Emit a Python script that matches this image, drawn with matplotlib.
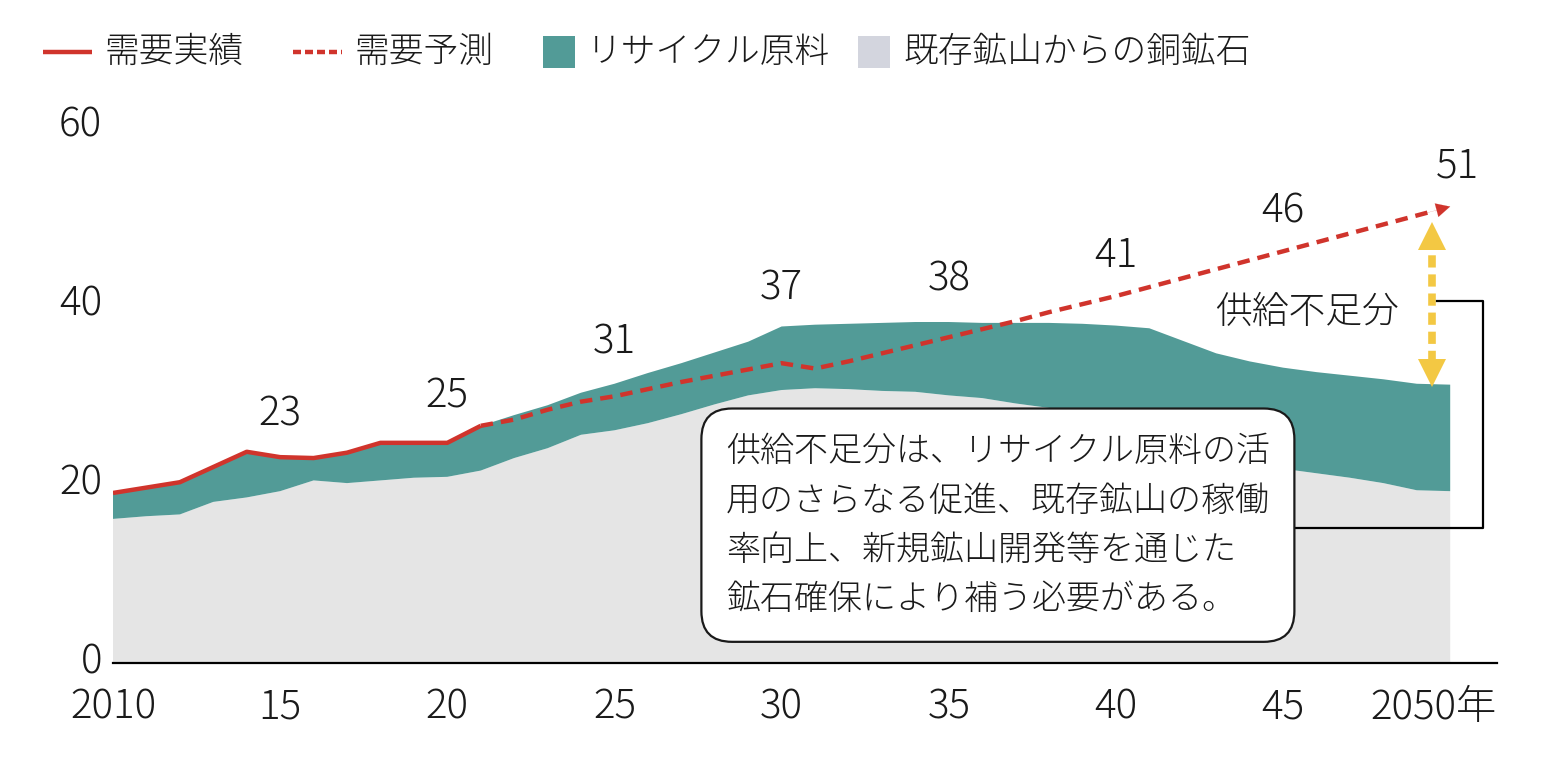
import matplotlib
matplotlib.use("Agg")
import matplotlib.pyplot as plt
from matplotlib.lines import Line2D
from matplotlib.patches import Rectangle
import matplotlib.transforms as mtransforms

plt.rcParams['font.family'] = ['Noto Sans CJK JP', 'DejaVu Sans']
plt.rcParams['font.weight'] = 'light'

# ---- data ----
years = list(range(2010, 2051))
ore_mine = [16.1, 16.4, 16.6, 18.0, 18.5, 19.2, 20.4, 20.1, 20.4, 20.7, 20.8,
            21.5, 22.9, 24.0, 25.5, 26.0, 26.8, 27.8, 28.9, 29.9, 30.5,
            30.7, 30.6, 30.4, 30.3, 29.9, 29.6, 29.0, 28.5, 28.2, 27.8,
            27.0, 25.5, 24.0, 22.8, 21.7, 21.2, 20.7, 20.1, 19.3, 19.2]
recycle = [2.9, 3.2, 3.6, 3.9, 5.1, 3.8, 2.5, 3.4, 4.2, 3.9, 3.8,
           5.0, 4.8, 4.8, 4.7, 5.2, 5.6, 5.7, 5.8, 6.0, 7.1,
           7.1, 7.3, 7.6, 7.8, 8.2, 8.4, 9.0, 9.5, 9.7, 9.9,
           10.4, 10.5, 10.6, 10.9, 11.3, 11.3, 11.4, 11.6, 11.9, 11.9]
actual_years = list(range(2010, 2022))
demand_actual = [19.0, 19.6, 20.2, 21.9, 23.6, 23.0, 22.9, 23.5, 24.6, 24.6, 24.6, 26.5]
forecast_years = list(range(2021, 2051))
demand_forecast = [26.5, 27.2, 28.3, 29.2, 29.8, 30.6, 31.4, 32.1, 32.8, 33.5,
                   32.9, 33.7, 34.6, 35.5, 36.4, 37.3, 38.2, 39.2, 40.1, 41.0,
                   42.0, 43.0, 44.0, 45.0, 46.0, 47.0, 48.0, 49.0, 50.0, 51.0]
label_years = [2015, 2020, 2025, 2030, 2035, 2040, 2045, 2050]
label_values = [23, 25, 31, 37, 38, 41, 46, 51]
xtick_values = [2010, 2015, 2020, 2025, 2030, 2035, 2040, 2045, 2050]
xtick_labels = ['2010', '15', '20', '25', '30', '35', '40', '45', '2050年']
ytick_values = [0, 20, 40, 60]

legend_labels = ['需要実績', '需要予測', 'リサイクル原料', '既存鉱山からの銅鉱石']
note_text = ('供給不足分は、リサイクル原料の活\n用のさらなる促進、既存鉱山の稼働\n'
             '率向上、新規鉱山開発等を通じた\n鉱石確保により補う必要がある。')
gap_label = '供給不足分'

# ---- colours ----
RED = '#d0342c'
TEAL = '#529b97'
GRAY = '#e5e5e5'
GRAY_LEG = '#d3d5de'
YELLOW = '#f3c843'
TXT = '#1a1a1a'

W, H = 1552, 768
fig = plt.figure(figsize=(W / 100, H / 100), dpi=100)
ax = fig.add_axes([113 / W, 105 / H, 1384 / W, 537 / H])
ax.set_xlim(2010, 2051.4)
ax.set_ylim(0, 60)

ax.stackplot(years, ore_mine, recycle, colors=[GRAY, TEAL], linewidth=0, zorder=1)

ax.plot(actual_years, demand_actual, color=RED, lw=3.2, solid_capstyle='butt', zorder=3)
f_last = demand_forecast[-1]
f_step = demand_forecast[-1] - demand_forecast[-2]
ax.plot(forecast_years[:-1] + [forecast_years[-1] - 0.45],
        demand_forecast[:-1] + [f_last - 0.45 * f_step],
        color=RED, lw=3.2, ls=(0, (2.8, 1.8)), zorder=3)
ax.annotate('', xy=(forecast_years[-1], f_last),
            xytext=(forecast_years[-1] - 0.7, f_last - 0.7 * f_step),
            arrowprops=dict(arrowstyle='-|>,head_length=1.0,head_width=0.5', color=RED, lw=0.1,
                            shrinkA=0, shrinkB=0), zorder=4)

# supply gap double arrow
gx = years[-1] - 0.55
top_y = f_last - 0.55 * f_step
bot_y = ore_mine[-1] + recycle[-1]
ax.plot([gx, gx], [bot_y + 2.4, top_y - 3.6], color=YELLOW, lw=5.5, ls=(0, (1.6, 0.9)), zorder=4,
        dash_capstyle='butt')
ax.plot([gx], [top_y - 2.7], marker='^', ms=20, color=YELLOW, mew=0, zorder=4)
ax.plot([gx], [bot_y + 1.35], marker='v', ms=20, color=YELLOW, mew=0, zorder=4)

# data labels
for yr, v in zip(label_years, label_values):
    dx = 5 if yr == 2050 else 0
    dy = 29 if v > 40 else 31
    ax.annotate(f'{v}', xy=(yr, v), xytext=(dx, dy), textcoords='offset points',
                ha='center', va='center', fontsize=29, color=TXT, zorder=5)

# bracket
ax.plot([2049.6, 2050.98, 2050.98, 2045.0], [40.45, 40.45, 15.1, 15.1],
        color='black', lw=1.6, clip_on=False, zorder=5)
ax.text(2045.72, 39.2, gap_label, ha='center', va='center', fontsize=26.5, color=TXT, zorder=6)

# note box
ax.text(2036.47, 15.4, note_text, ha='center', va='center', multialignment='left',
        fontsize=24.5, linespacing=1.48, color=TXT, zorder=7,
        bbox=dict(boxstyle='round,pad=0.72,rounding_size=0.9', fc='white', ec=TXT, lw=1.6))

# axes styling
for s in ['top', 'right', 'left']:
    ax.spines[s].set_visible(False)
ax.spines['bottom'].set_linewidth(1.6)
ax.spines['bottom'].set_zorder(8)
ax.set_yticks(ytick_values)
ax.set_yticklabels([str(v) for v in ytick_values])
ax.set_xticks(xtick_values)
ax.set_xticklabels(xtick_labels)
ax.tick_params(axis='y', length=0, pad=8, labelsize=29, labelcolor=TXT)
ax.tick_params(axis='x', length=0, pad=17, labelsize=29, labelcolor=TXT)
for lab in ax.get_yticklabels():
    lab.set_transform(lab.get_transform() + mtransforms.ScaledTranslation(0, 4 / 72, fig.dpi_scale_trans))
last = ax.get_xticklabels()[-1]
last.set_transform(last.get_transform() + mtransforms.ScaledTranslation(-12 / 72, 0, fig.dpi_scale_trans))

# legend (manual, figure pixel coordinates)
ly = 1 - 52 / H
fig.add_artist(Line2D([43 / W, 92 / W], [ly, ly], color=RED, lw=3.2, solid_capstyle='butt'))
fig.add_artist(Line2D([293 / W, 342 / W], [ly, ly], color=RED, lw=3.2, ls=(0, (1.8, 0.9)),
                      dash_capstyle='butt'))
fig.add_artist(Rectangle((543 / W, 1 - 68 / H), 32 / W, 32 / H, color=TEAL, lw=0))
fig.add_artist(Rectangle((858 / W, 1 - 68 / H), 32 / W, 32 / H, color=GRAY_LEG, lw=0))
for x0, lab in zip([105, 355, 587, 903], legend_labels):
    fig.text(x0 / W, ly, lab, ha='left', va='center', fontsize=25, color=TXT)

fig.savefig('out.png', dpi=100)
